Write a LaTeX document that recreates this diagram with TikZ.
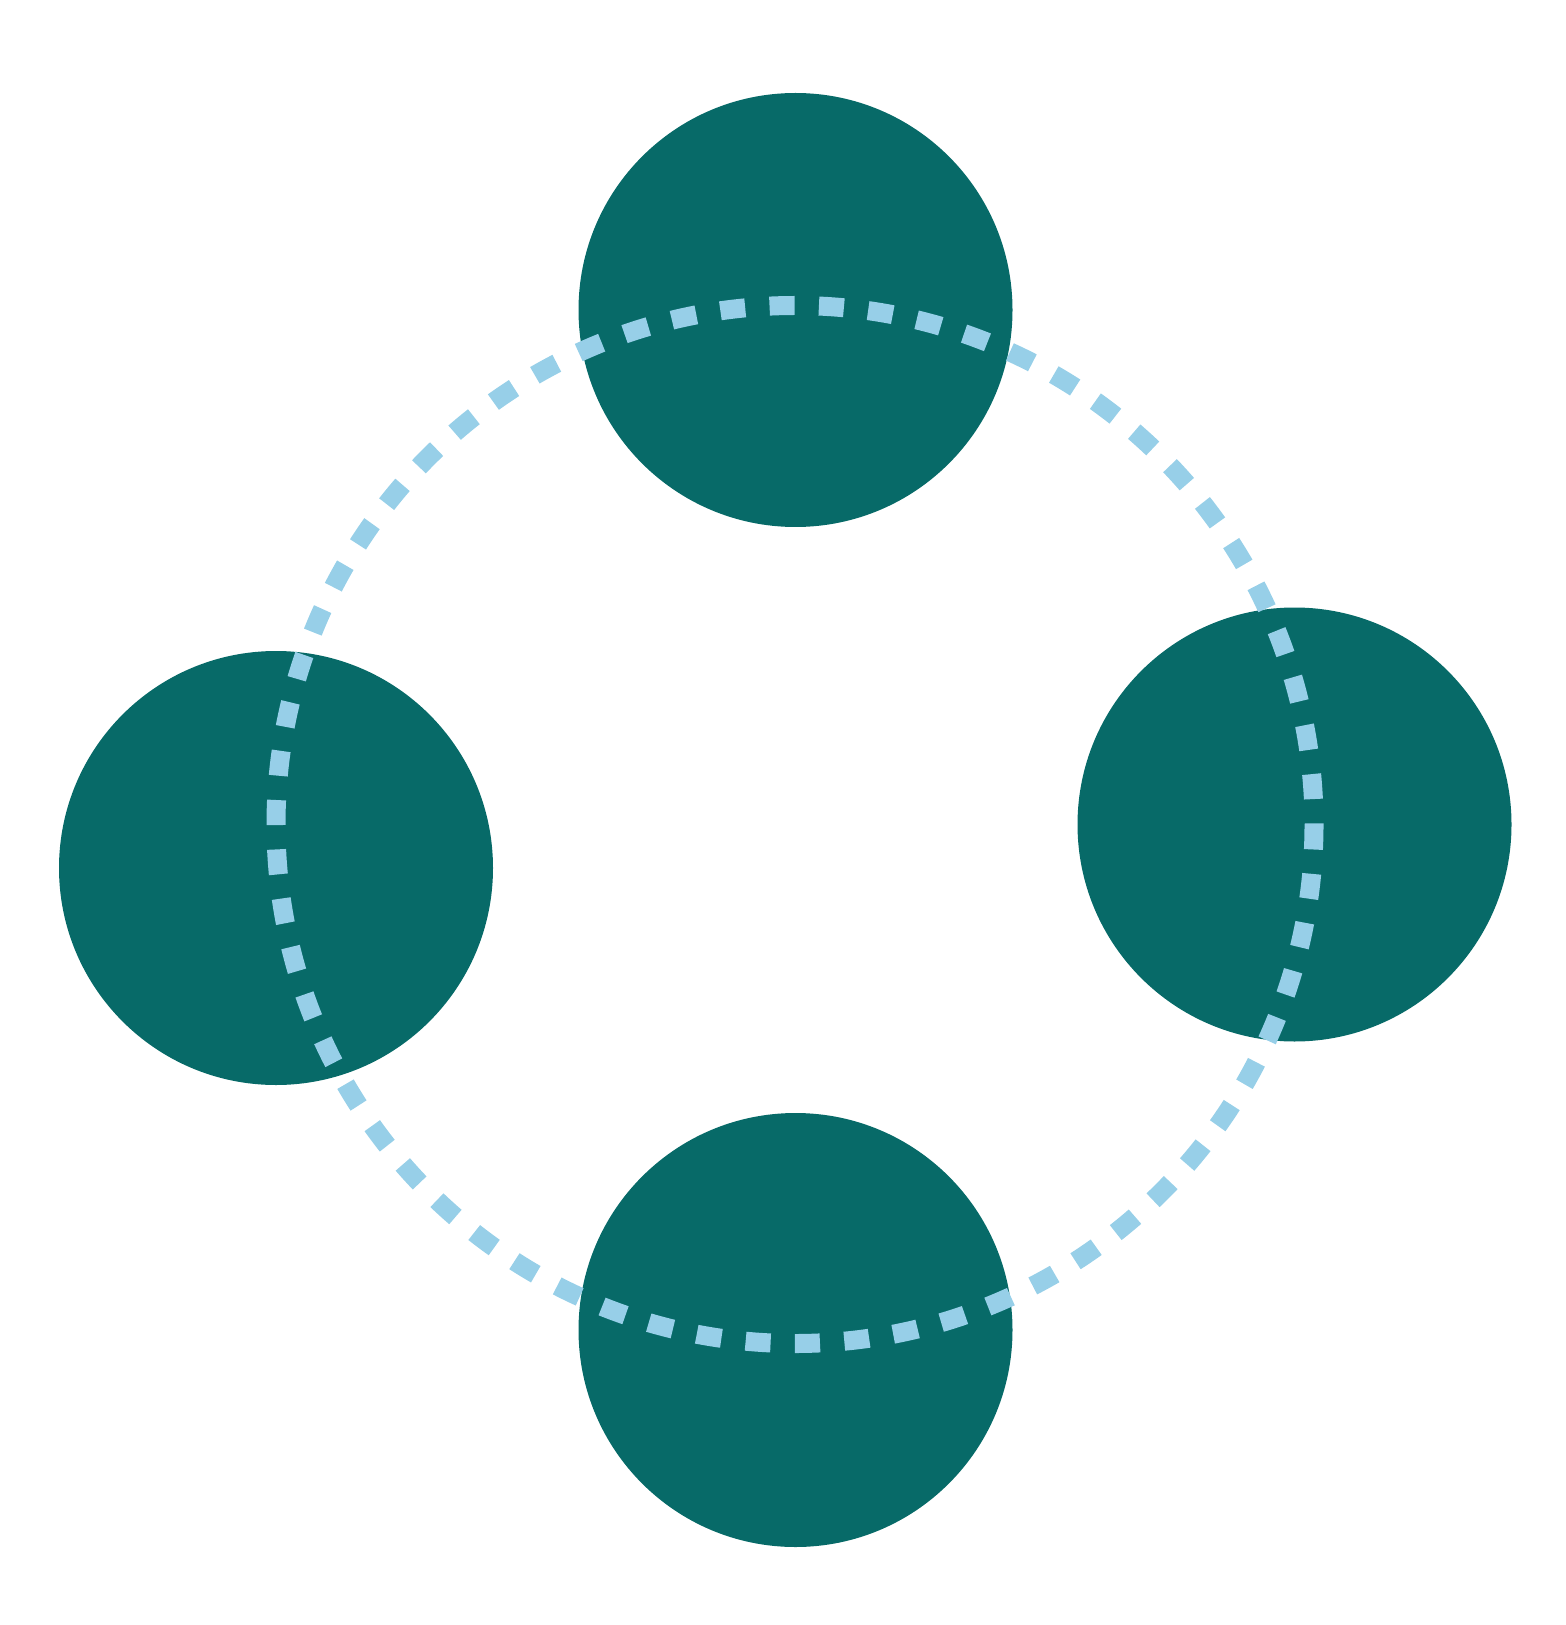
\documentclass[tikz,border=0pt]{standalone}
\usetikzlibrary{positioning}

\definecolor{ballteal}{RGB}{7,106,104}
\definecolor{ringblue}{RGB}{151,207,232}

\tikzset{
  ball/.style={circle, fill=ballteal, draw=none, inner sep=0pt, minimum size=217pt},
  ring/.style={draw=ringblue, line width=9.5pt, dash pattern=on 12.5pt off 12.2pt}
}

\begin{document}
\begin{tikzpicture}[x=0.5pt, y=-0.5pt]

  \newcommand\Rring{519};

  \useasboundingbox (0,0) rectangle (1566,1625);

  % the four balls
  \node[ball] (top)    at (795.5, 310)   {};
  \node[ball] (left)   at (276,   868)   {};
  \node[ball] (right)  at (1294.5,824.5) {};
  \node[ball] (bottom) at (795.5, 1330)  {};

  % dashed orbit on top of them
  \coordinate (mid) at (795, 824.5);
  \draw[ring] (mid) circle[radius=\Rring];

\end{tikzpicture}
\end{document}
